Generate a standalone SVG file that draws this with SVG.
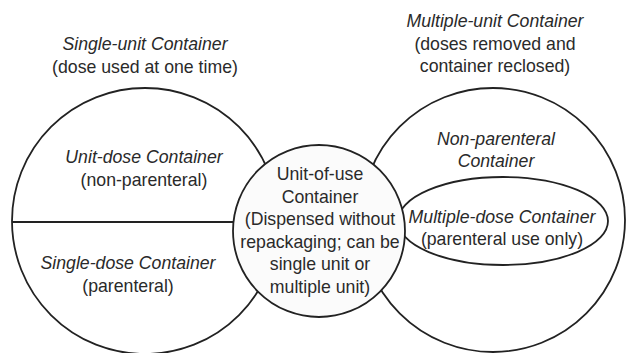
<svg xmlns="http://www.w3.org/2000/svg" width="627" height="353" viewBox="0 0 627 353">
<style>
.sh{fill:none;stroke:#222;stroke-width:1.8}
text{font-family:"Liberation Sans",Arial,Helvetica,sans-serif;font-size:17.7px;fill:#2a2a2a;text-anchor:middle}
.i{font-style:italic}
</style>
<rect width="627" height="353" fill="#fff"/>
<g id="single-unit">
<circle class="sh" cx="145" cy="221" r="133"/>
<text class="i" x="145" y="50">Single-unit Container</text>
<text x="145" y="72.5">(dose used at one time)</text>
</g>
<g id="multiple-unit">
<circle class="sh" cx="493" cy="220" r="132"/>
<text class="i" x="495" y="27">Multiple-unit Container</text>
<text x="495" y="49.5">(doses removed and</text>
<text x="495" y="72">container reclosed)</text>
</g>
<g id="unit-dose">
<text class="i" x="144" y="163">Unit-dose Container</text>
<text x="144" y="185.5">(non-parenteral)</text>
</g>
<g id="single-dose">
<text class="i" x="128" y="269">Single-dose Container</text>
<text x="128" y="291.5">(parenteral)</text>
</g>
<g id="non-parenteral">
<text class="i" x="496" y="145">Non-parenteral</text>
<text class="i" x="496" y="167">Container</text>
</g>
<g id="multiple-dose">
<ellipse class="sh" cx="503" cy="221" rx="105" ry="44"/>
<text class="i" x="502" y="223">Multiple-dose Container</text>
<text x="502" y="245">(parenteral use only)</text>
</g>
<g id="connectors">
<line class="sh" x1="12" y1="222" x2="240" y2="222"/>
</g>
<g id="unit-of-use">
<circle cx="319" cy="231" r="86" fill="#fbfbfb" stroke="#222" stroke-width="1.8"/>
<text x="320" y="180">Unit-of-use</text>
<text x="320" y="202.5">Container</text>
<text x="320" y="225">(Dispensed without</text>
<text x="320" y="247.5">repackaging; can be</text>
<text x="320" y="270">single unit or</text>
<text x="320" y="292.5">multiple unit)</text>
</g>
</svg>
